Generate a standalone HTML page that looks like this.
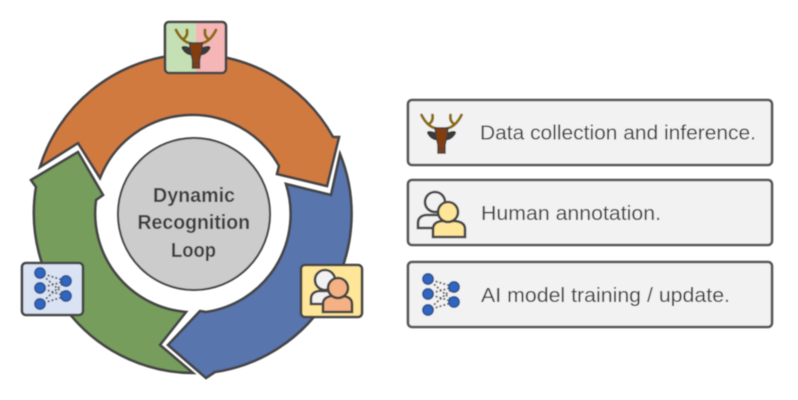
<!DOCTYPE html>
<html>
<head>
<meta charset="utf-8">
<style>
html,body{margin:0;padding:0;background:#fff;width:798px;height:400px;overflow:hidden}
svg{display:block}
text{font-family:"Liberation Sans",sans-serif;fill:#3c3c3c}
</style>
</head>
<body>
<svg width="798" height="400" viewBox="0 0 798 400" xmlns="http://www.w3.org/2000/svg">
<defs>
<filter id="b" x="-5%" y="-5%" width="110%" height="110%"><feGaussianBlur stdDeviation="0.5"/></filter>
<g id="deer">
  <g fill="none" stroke="#8a6a00" stroke-width="2.8" stroke-linecap="round">
    <path d="M-20,2 Q-14,14 -5,15.5"/><path d="M-9,2 Q-8,8 -12.5,11"/>
    <path d="M20,2 Q14,14 5,15.5"/><path d="M9,2 Q8,8 12.5,11"/>
  </g>
  <path d="M-6,20 Q-14,17 -14,20 Q-11,26 -5,27Z M6,20 Q14,17 14,20 Q11,26 5,27Z" fill="#3a3a3a" stroke="#333" stroke-width="1"/>
  <path d="M-6.5,15 L6.5,15 L5.5,23 L3.5,32 L3.5,40 L-3.5,40 L-3.5,32 L-5.5,23Z" fill="#843c0c" stroke="#3f3f3f" stroke-width="1.4"/>
  <path d="M-3.5,35.5 H3.5" stroke="#3f3f3f" stroke-width="1"/>
</g>
<g id="net">
  <g stroke="#555" stroke-width="1.8" stroke-dasharray="2 2" fill="none">
    <path d="M428,279 L454,287 M428,279 L454,302 M428,294 L454,287 M428,294 L454,302 M428,310 L454,287 M428,310 L454,302"/>
  </g>
  <g fill="#2f66c0" stroke="#2f528f" stroke-width="1.5">
    <circle cx="428" cy="279" r="5.2"/><circle cx="428" cy="294" r="5.2"/><circle cx="428" cy="310" r="5.2"/>
    <circle cx="454" cy="287" r="5.2"/><circle cx="454" cy="302" r="5.2"/>
  </g>
</g>
</defs>
<g filter="url(#b)">
<g stroke="#444" stroke-width="2.6" stroke-linejoin="miter">
  <path d="M40,167 A160,160 0 0 1 333,137 L339,137 L327,186 L277,174 L279,166 A99,99 0 0 0 100,178 L78,143 Z" fill="#d17a40"/>
  <path d="M340,154 A160,160 0 0 1 215,372 L206,378 L168,345 L200,311 L206,312 A99,99 0 0 0 286,184 L331,195 Z" fill="#5875ae"/>
  <path d="M31,180 L78,152 L103,195 L96,200 A99,99 0 0 0 186,312 L160,345 L193,373 A160,160 0 0 1 36,187 Z" fill="#769d5c"/>
</g>
<circle cx="194" cy="214" r="76" fill="#cccccc" stroke="#444" stroke-width="2"/>
<g font-weight="bold" font-size="20.5">
  <text x="153" y="202" textLength="82" lengthAdjust="spacingAndGlyphs">Dynamic</text>
  <text x="137.5" y="229" textLength="112.5" lengthAdjust="spacingAndGlyphs">Recognition</text>
  <text x="171" y="257" textLength="45" lengthAdjust="spacingAndGlyphs">Loop</text>
</g>

<!-- top badge -->
<rect x="165" y="22" width="31" height="51" fill="#c5e0b4"/>
<rect x="196" y="22" width="30" height="51" fill="#f4b6b6"/>
<rect x="165" y="22" width="61" height="51" rx="4" fill="none" stroke="#444" stroke-width="2.6"/>
<use href="#deer" x="196" y="28"/>

<!-- yellow badge -->
<rect x="301" y="265" width="61" height="52" rx="4" fill="#ffe699" stroke="#444" stroke-width="2.6"/>
<g stroke="#444" stroke-width="2.6">
  <path d="M311,304 V299 Q311,292 319,291 H331 Q339,292 339,299 V304Z" fill="#f2f2f2"/>
  <circle cx="325" cy="280" r="10" fill="#f2f2f2"/>
  <path d="M323,312 V304 Q323,297 332,296 H343 Q352,297 352,304 V312Z" fill="#f4b183"/>
  <circle cx="338" cy="288" r="10" fill="#f4b183"/>
</g>

<!-- blue badge -->
<rect x="22" y="263" width="61" height="52" rx="4" fill="#dae3f3" stroke="#444" stroke-width="2.6"/>
<use href="#net" x="-388" y="-6"/>

<!-- legend -->
<g fill="#f2f2f2" stroke="#555" stroke-width="2.6">
  <rect x="408" y="100" width="364" height="65" rx="4"/>
  <rect x="408" y="180" width="364" height="65" rx="4"/>
  <rect x="408" y="262" width="364" height="65" rx="4"/>
</g>
<use href="#deer" x="441.5" y="113"/>
<g stroke="#444" stroke-width="2.6">
  <path d="M418,228 V223 Q418,216 426,215 H442 Q450,216 450,223 V228Z" fill="#f2f2f2"/>
  <circle cx="435" cy="202" r="10" fill="#f2f2f2"/>
  <path d="M433,237 V229 Q433,222 442,221 H455 Q465,222 465,229 V237Z" fill="#ffe699"/>
  <circle cx="448" cy="212" r="10" fill="#ffe699"/>
</g>
<use href="#net"/>
<g font-size="20.5">
  <text x="480" y="139.5" textLength="276" lengthAdjust="spacingAndGlyphs">Data collection and inference.</text>
  <text x="481" y="220" textLength="180" lengthAdjust="spacingAndGlyphs">Human annotation.</text>
  <text x="481" y="302" textLength="249" lengthAdjust="spacingAndGlyphs">AI model training / update.</text>
</g>
</g>
</svg>
</body>
</html>
